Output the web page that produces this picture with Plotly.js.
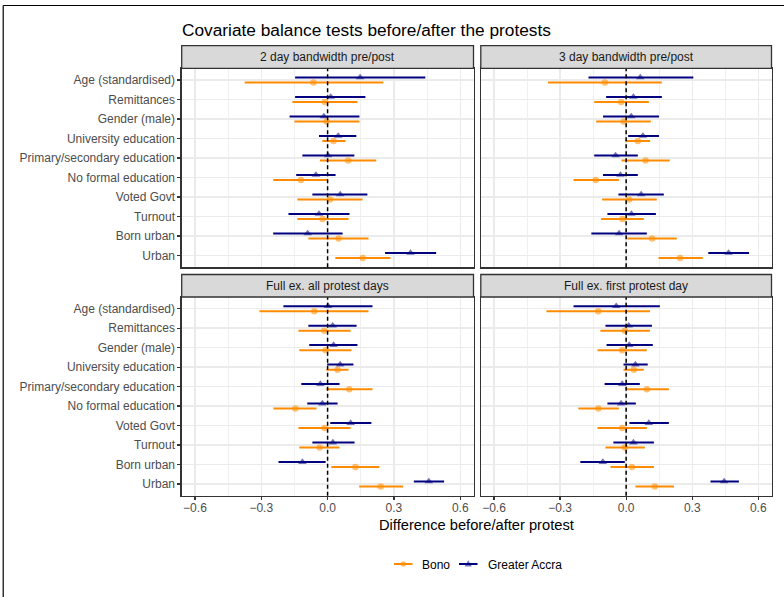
<!DOCTYPE html>
<html>
<head>
<meta charset="utf-8">
<script src="https://cdn.plot.ly/plotly-3.0.1.min.js"></script>
<style>
html,body{margin:0;padding:0;background:#fff;}
#chart{width:784px;height:597px;}
</style>
</head>
<body>
<div id="chart"></div>
<script>
// ---- data (top-to-bottom order of categories) ----
const categories = ["Age (standardised)", "Remittances", "Gender (male)", "University education",
  "Primary/secondary education", "No formal education", "Voted Govt", "Turnout", "Born urban", "Urban"];
const panelTitles = ["2 day bandwidth pre/post", "3 day bandwidth pre/post",
  "Full ex. all protest days", "Full ex. first protest day"];
const seriesNames = ["Bono", "Greater Accra"];
const xTickVals = [-0.6, -0.3, 0, 0.3, 0.6];

// 2 day bandwidth
const est_2d_ga   = [0.147, 0.014, -0.017, 0.048, 0.002, -0.053, 0.057, -0.039, -0.090, 0.375];
const lo_2d_ga    = [-0.147, -0.147, -0.172, -0.039, -0.114, -0.142, -0.069, -0.177, -0.246, 0.260];
const hi_2d_ga    = [0.442, 0.171, 0.144, 0.130, 0.121, 0.036, 0.180, 0.099, 0.068, 0.491];
const est_2d_bono = [-0.064, -0.012, -0.005, 0.027, 0.093, -0.121, 0.011, -0.023, 0.050, 0.159];
const lo_2d_bono  = [-0.375, -0.159, -0.150, -0.024, -0.035, -0.246, -0.137, -0.137, -0.087, 0.035];
const hi_2d_bono  = [0.252, 0.135, 0.144, 0.081, 0.220, 0.000, 0.158, 0.095, 0.185, 0.284];
// 3 day bandwidth
const est_3d_ga   = [0.064, 0.033, 0.023, 0.076, -0.048, -0.026, 0.068, 0.024, -0.032, 0.465];
const lo_3d_ga    = [-0.171, -0.091, -0.105, 0.009, -0.145, -0.105, -0.035, -0.085, -0.158, 0.373];
const hi_3d_ga    = [0.305, 0.162, 0.149, 0.149, 0.053, 0.053, 0.171, 0.135, 0.094, 0.558];
const est_3d_bono = [-0.097, -0.023, -0.011, 0.053, 0.088, -0.138, 0.014, -0.017, 0.118, 0.245];
const lo_3d_bono  = [-0.355, -0.145, -0.136, -0.003, -0.021, -0.239, -0.109, -0.114, 0.005, 0.147];
const hi_3d_bono  = [0.162, 0.103, 0.112, 0.109, 0.198, -0.033, 0.139, 0.080, 0.230, 0.348];
// Full ex. all protest days
const est_all_ga   = [0.002, 0.023, 0.027, 0.057, -0.033, -0.024, 0.104, 0.024, -0.114, 0.458];
const lo_all_ga    = [-0.200, -0.087, -0.083, -0.002, -0.119, -0.092, 0.012, -0.069, -0.222, 0.390];
const hi_all_ga    = [0.203, 0.131, 0.135, 0.117, 0.054, 0.045, 0.198, 0.122, -0.009, 0.527];
const est_all_bono = [-0.060, -0.015, -0.009, 0.045, 0.098, -0.146, -0.014, -0.036, 0.126, 0.240];
const lo_all_bono  = [-0.308, -0.132, -0.128, -0.006, -0.006, -0.245, -0.132, -0.128, 0.017, 0.143];
const hi_all_bono  = [0.185, 0.104, 0.108, 0.095, 0.203, -0.050, 0.104, 0.054, 0.234, 0.342];
// Full ex. first protest day
const est_first_ga   = [-0.045, 0.012, 0.014, 0.042, -0.018, -0.023, 0.103, 0.033, -0.106, 0.445];
const lo_first_ga    = [-0.239, -0.094, -0.089, -0.012, -0.098, -0.085, 0.015, -0.058, -0.208, 0.383];
const hi_first_ga    = [0.153, 0.117, 0.121, 0.098, 0.062, 0.044, 0.194, 0.126, -0.006, 0.512];
const est_first_bono = [-0.127, -0.006, -0.018, 0.035, 0.094, -0.126, -0.018, -0.006, 0.026, 0.130];
const lo_first_bono  = [-0.362, -0.117, -0.130, -0.012, -0.003, -0.217, -0.130, -0.094, -0.071, 0.042];
const hi_first_bono  = [0.108, 0.108, 0.094, 0.080, 0.194, -0.033, 0.094, 0.085, 0.126, 0.217];

const panels = [
  {ga:[est_2d_ga, lo_2d_ga, hi_2d_ga], bono:[est_2d_bono, lo_2d_bono, hi_2d_bono]},
  {ga:[est_3d_ga, lo_3d_ga, hi_3d_ga], bono:[est_3d_bono, lo_3d_bono, hi_3d_bono]},
  {ga:[est_all_ga, lo_all_ga, hi_all_ga], bono:[est_all_bono, lo_all_bono, hi_all_bono]},
  {ga:[est_first_ga, lo_first_ga, hi_first_ga], bono:[est_first_bono, lo_first_bono, hi_first_bono]}
];

// ---- styling ----
const W = 784, H = 597;
const FONT = '"Liberation Sans", Arial, Helvetica, sans-serif';
const ORANGE = '#FF8C00', NAVY = '#000080';
const MARKER_OPACITY = 0.55;
const DODGE = 0.13;
const n = categories.length;
const yPos = categories.map((c, i) => n - i);

const px = v => v / W;
const py = v => 1 - v / H;
const xDom = [[px(181.7), px(473.5)], [px(480.8), px(771.5)]];
const yDom = [[py(267.2), py(68.3)], [py(495.7), py(297)]];
const stripPx = [[45.7, 68.3], [274.5, 297]];

const traces = [];
const shapes = [];
const annotations = [];
const layout = {
  width: W, height: H,
  margin: {l: 0, r: 0, t: 0, b: 0},
  paper_bgcolor: '#fff', plot_bgcolor: '#fff',
  font: {family: FONT, color: '#000'},
  showlegend: false,
  title: {text: 'Covariate balance tests before/after the protests', x: px(182), xanchor: 'left',
          y: py(30), yanchor: 'middle', font: {size: 17.3, color: '#000', family: FONT}}
};

panels.forEach((p, k) => {
  const col = k % 2, row = Math.floor(k / 2);
  const sfx = k === 0 ? '' : String(k + 1);
  const xa = 'x' + sfx, ya = 'y' + sfx;
  const series = [
    {d: p.bono, color: ORANGE, sym: 'circle', size: 6.5, off: -DODGE, name: seriesNames[0]},
    {d: p.ga, color: NAVY, sym: 'triangle-up', size: 7.5, off: DODGE, name: seriesNames[1]}
  ];
  series.forEach(s => {
    const [est, lo, hi] = s.d;
    traces.push({
      type: 'scatter', mode: 'markers', xaxis: xa, yaxis: ya, name: s.name, hoverinfo: 'skip',
      x: est, y: yPos.map(v => v + s.off),
      error_x: {type: 'data', symmetric: false, array: hi.map((h, i) => h - est[i]),
                arrayminus: lo.map((l, i) => est[i] - l), color: s.color, thickness: 2, width: 0},
      marker: {color: s.color, symbol: s.sym, size: s.size, opacity: MARKER_OPACITY, line: {width: 0}}
    });
  });
  const bottom = row === 1, left = col === 0;
  layout['xaxis' + sfx] = {
    domain: xDom[col], anchor: ya, range: [-0.66, 0.66], tickvals: xTickVals, tickformat: '.1f',
    showticklabels: bottom, ticks: bottom ? 'outside' : '', ticklen: 3, tickwidth: 1.2, tickcolor: '#333',
    ticklabelstandoff: -2,
    tickfont: {size: 12, color: '#4d4d4d'},
    showgrid: true, gridcolor: '#ebebeb', gridwidth: 1.4, zeroline: false,
    minor: {dtick: 0.15, tick0: 0, showgrid: true, gridcolor: '#f0f0f0', gridwidth: 1},
    showline: true, mirror: true, linecolor: '#333', linewidth: 1.3, fixedrange: true
  };
  layout['yaxis' + sfx] = {
    domain: yDom[row], anchor: xa, range: [0.4, n + 0.6], tickvals: yPos, ticktext: categories,
    showticklabels: left, ticks: left ? 'outside' : '', ticklen: 3, tickwidth: 1.2, tickcolor: '#333',
    tickfont: {size: 12, color: '#4d4d4d'},
    showgrid: true, gridcolor: '#ebebeb', gridwidth: 1.4, zeroline: false,
    showline: true, mirror: true, linecolor: '#333', linewidth: 1.3, fixedrange: true
  };
  // dashed zero line
  shapes.push({type: 'line', xref: xa, yref: ya + ' domain', x0: 0, x1: 0, y0: 0, y1: 1,
               line: {color: '#000', width: 1.5, dash: '4px,3px'}, layer: 'above'});
  // strip
  const sp = stripPx[row];
  shapes.push({type: 'rect', xref: 'paper', yref: 'paper', x0: xDom[col][0], x1: xDom[col][1],
               y0: py(sp[1]), y1: py(sp[0]), fillcolor: '#d9d9d9', line: {color: '#333', width: 1.3}});
  annotations.push({xref: 'paper', yref: 'paper', x: (xDom[col][0] + xDom[col][1]) / 2,
                    y: py((sp[0] + sp[1]) / 2), xanchor: 'center', yanchor: 'middle', showarrow: false,
                    text: panelTitles[k], font: {size: 12, color: '#1a1a1a'}});
});

// axis title
annotations.push({xref: 'paper', yref: 'paper', x: (xDom[0][0] + xDom[1][1]) / 2, y: py(525),
                  xanchor: 'center', yanchor: 'middle', showarrow: false,
                  text: 'Difference before/after protest', font: {size: 14.7, color: '#000'}});

// manual legend (keys drawn as shapes)
const LY = 564;
function legendKey(x0, color, isTri, label, tx) {
  shapes.push({type: 'line', xref: 'paper', yref: 'paper', x0: px(x0), x1: px(x0 + 18.5), y0: py(LY), y1: py(LY),
               line: {color: color, width: 2}});
  const cx = x0 + 9.25;
  if (isTri) {
    shapes.push({type: 'path', xref: 'paper', yref: 'paper', opacity: MARKER_OPACITY,
                 path: `M${px(cx)},${py(LY - 3.8)} L${px(cx - 3.6)},${py(LY + 2.4)} L${px(cx + 3.6)},${py(LY + 2.4)} Z`,
                 fillcolor: color, line: {width: 0}});
  } else {
    shapes.push({type: 'circle', xref: 'paper', yref: 'paper', opacity: MARKER_OPACITY,
                 x0: px(cx - 2.8), x1: px(cx + 2.8), y0: py(LY + 2.8), y1: py(LY - 2.8),
                 fillcolor: color, line: {width: 0}});
  }
  annotations.push({xref: 'paper', yref: 'paper', x: px(tx), y: py(LY + 0.5), xanchor: 'left', yanchor: 'middle',
                    showarrow: false, text: label, font: {size: 12, color: '#000'}});
}
legendKey(394, ORANGE, false, seriesNames[0], 420);
legendKey(459, NAVY, true, seriesNames[1], 485.5);

// outer frame (left and top edge)
shapes.push({type: 'line', xref: 'paper', yref: 'paper', x0: px(3.2), x1: px(3.2), y0: 0, y1: py(5.5),
             line: {color: '#000', width: 1.2}});
shapes.push({type: 'line', xref: 'paper', yref: 'paper', x0: px(3.2), x1: 1, y0: py(5.5), y1: py(5.5),
             line: {color: '#000', width: 1.2}});

layout.shapes = shapes;
layout.annotations = annotations;

Plotly.newPlot('chart', traces, layout, {displayModeBar: false, staticPlot: true});
</script>
</body>
</html>
